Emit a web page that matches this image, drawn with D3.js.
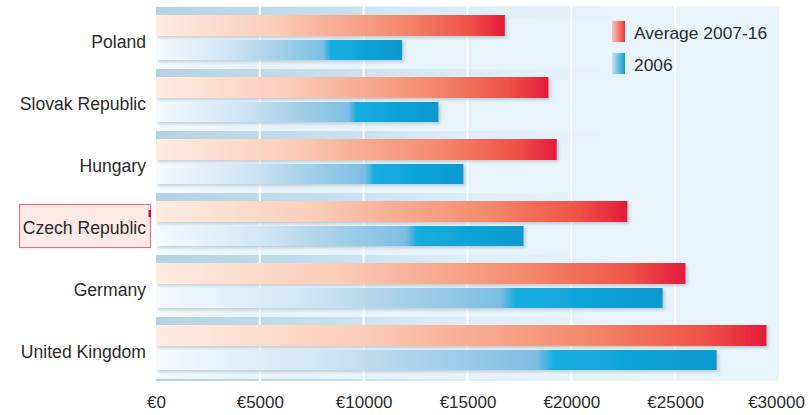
<!DOCTYPE html>
<html>
<head>
<meta charset="utf-8">
<script src="https://cdn.jsdelivr.net/npm/d3@7"></script>
<style>
  html, body { margin: 0; padding: 0; background: #ffffff; }
  svg { display: block; }
  text { font-family: "Liberation Sans", Arial, sans-serif; }
</style>
</head>
<body>
<svg id="chart" width="810" height="415"></svg>
<script>
// Labour cost per employee, euros
const categories = ["Poland", "Slovak Republic", "Hungary", "Czech Republic", "Germany", "United Kingdom"];
const average2007_16 = [16800, 18900, 19300, 22700, 25500, 29400];
const value2006 = [11850, 13600, 14800, 17700, 24400, 27000];
const seriesNames = ["Average 2007-16", "2006"];
const tickValues = [0, 5000, 10000, 15000, 20000, 25000, 30000];
const highlighted = "Czech Republic";

const svg = d3.select("#chart");
const defs = svg.append("defs");

const x = d3.scaleLinear().domain([0, 30000]).range([156, 779]);
const y = d3.scaleBand().domain(categories).range([8, 380]);
const inner = d3.scaleBand().domain(["avg", "y2006"]).range([7, 52]).paddingInner(0.2);

const panelTop = 6, panelBottom = 381;

// gradients
function linGrad(id, stops) {
  const g = defs.append("linearGradient").attr("id", id)
    .attr("x1", 0).attr("y1", 0).attr("x2", 1).attr("y2", 0);
  stops.forEach(s => g.append("stop").attr("offset", s[0]).attr("stop-color", s[1])
    .attr("stop-opacity", s[2] === undefined ? 1 : s[2]));
}
linGrad("gRed", [[0, "#fdebe3"], [0.35, "#fbcbb5"], [0.7, "#f48a6e"], [0.9, "#ee5147"], [1, "#e41a3a"]]);
linGrad("gBlue", [[0, "#f6fafd"], [0.3, "#cfe4f2"], [0.68, "#7dbde2"], [0.71, "#16ade0"], [1, "#0a98cf"]]);
linGrad("gStrip", [[0, "#aecddd", 0.9], [0.3, "#bcd7e6", 0.7], [0.6, "#d8e9f3", 0.3], [0.85, "#e8f3fa", 0]]);
linGrad("gPanel", [[0, "#f3f9fc"], [0.15, "#e6f2f9"], [1, "#e9f4fa"]]);

const shadow = defs.append("filter").attr("id", "barShadow")
  .attr("x", "-5%").attr("y", "-30%").attr("width", "115%").attr("height", "170%");
shadow.append("feDropShadow").attr("dx", 2).attr("dy", 2).attr("stdDeviation", 1.8)
  .attr("flood-color", "#7d95a4").attr("flood-opacity", 0.4);

// plot panel
svg.append("rect")
  .attr("x", x(0)).attr("y", panelTop)
  .attr("width", x(30000) - x(0)).attr("height", panelBottom - panelTop)
  .attr("fill", "url(#gPanel)");

// grey-blue strips between the groups
const clip = defs.append("clipPath").attr("id", "panelClip");
clip.append("rect").attr("x", x(0)).attr("y", panelTop)
  .attr("width", x(30000) - x(0)).attr("height", panelBottom - panelTop);

const stripRows = [-1].concat(d3.range(categories.length));
svg.append("g").attr("clip-path", "url(#panelClip)")
  .selectAll("rect").data(stripRows).join("rect")
  .attr("x", x(0))
  .attr("y", i => y.range()[0] + y.step() * (i + 1) - 1)
  .attr("width", x(30000) - x(0))
  .attr("height", 12)
  .attr("fill", "url(#gStrip)");

// vertical gridlines
svg.append("g").selectAll("line").data(tickValues.slice(1, -1)).join("line")
  .attr("x1", d => x(d)).attr("x2", d => x(d))
  .attr("y1", panelTop).attr("y2", panelBottom)
  .attr("stroke", "#ffffff").attr("stroke-width", 2);

// bars
const rows = categories.map((c, i) => ({ c, avg: average2007_16[i], y2006: value2006[i] }));
const group = svg.append("g").selectAll("g").data(rows).join("g")
  .attr("transform", d => `translate(0,${y(d.c)})`);

group.append("rect")
  .attr("x", x(0)).attr("y", inner("avg"))
  .attr("width", d => x(d.avg) - x(0)).attr("height", inner.bandwidth() + 1)
  .attr("fill", "url(#gRed)")
  .attr("filter", "url(#barShadow)");

group.append("rect")
  .attr("x", x(0)).attr("y", inner("y2006"))
  .attr("width", d => x(d.y2006) - x(0)).attr("height", inner.bandwidth())
  .attr("fill", "url(#gBlue)")
  .attr("filter", "url(#barShadow)");

// highlighted category box
const hy = y(highlighted);
svg.append("rect")
  .attr("x", 19.5).attr("y", hy + 10.5)
  .attr("width", 131).attr("height", 43)
  .attr("fill", "#fde9e6").attr("stroke", "#dc7482").attr("stroke-width", 1.2);
svg.append("rect")
  .attr("x", 148.5).attr("y", hy + 16)
  .attr("width", 2.5).attr("height", 7)
  .attr("fill", "#cf0f3b");

// category labels
svg.append("g").selectAll("text").data(categories).join("text")
  .attr("x", 146)
  .attr("y", d => y(d) + 34)
  .attr("text-anchor", "end")
  .attr("dominant-baseline", "central")
  .attr("font-size", 17.6)
  .attr("fill", "#2b2b2b")
  .text(d => d);

// x axis
const axis = d3.axisBottom(x).tickValues(tickValues)
  .tickFormat(d => "€" + d).tickSize(0).tickPadding(0);
const ax = svg.append("g").attr("transform", "translate(0,396)").call(axis);
ax.select(".domain").remove();
ax.selectAll("text")
  .attr("font-size", 17)
  .attr("fill", "#2b2b2b")
  .attr("font-family", "Liberation Sans, Arial, sans-serif");
ax.selectAll(".tick").filter(d => d === 30000).select("text").attr("dx", -3);

// legend
linGrad("gLegRed", [[0, "#fbc6b6"], [1, "#e8343c"]]);
linGrad("gLegBlue", [[0, "#c9def0"], [1, "#0d9fd5"]]);
const legend = svg.append("g");
const legItems = [
  { name: seriesNames[0], fill: "url(#gLegRed)", y: 21 },
  { name: seriesNames[1], fill: "url(#gLegBlue)", y: 53 }
];
legend.selectAll("rect").data(legItems).join("rect")
  .attr("x", 612).attr("y", d => d.y)
  .attr("width", 13).attr("height", 21)
  .attr("fill", d => d.fill);
legend.selectAll("text").data(legItems).join("text")
  .attr("x", 634).attr("y", d => d.y + 12)
  .attr("dominant-baseline", "central")
  .attr("font-size", 17.4)
  .attr("fill", "#2b2b2b")
  .text(d => d.name);
</script>
</body>
</html>
